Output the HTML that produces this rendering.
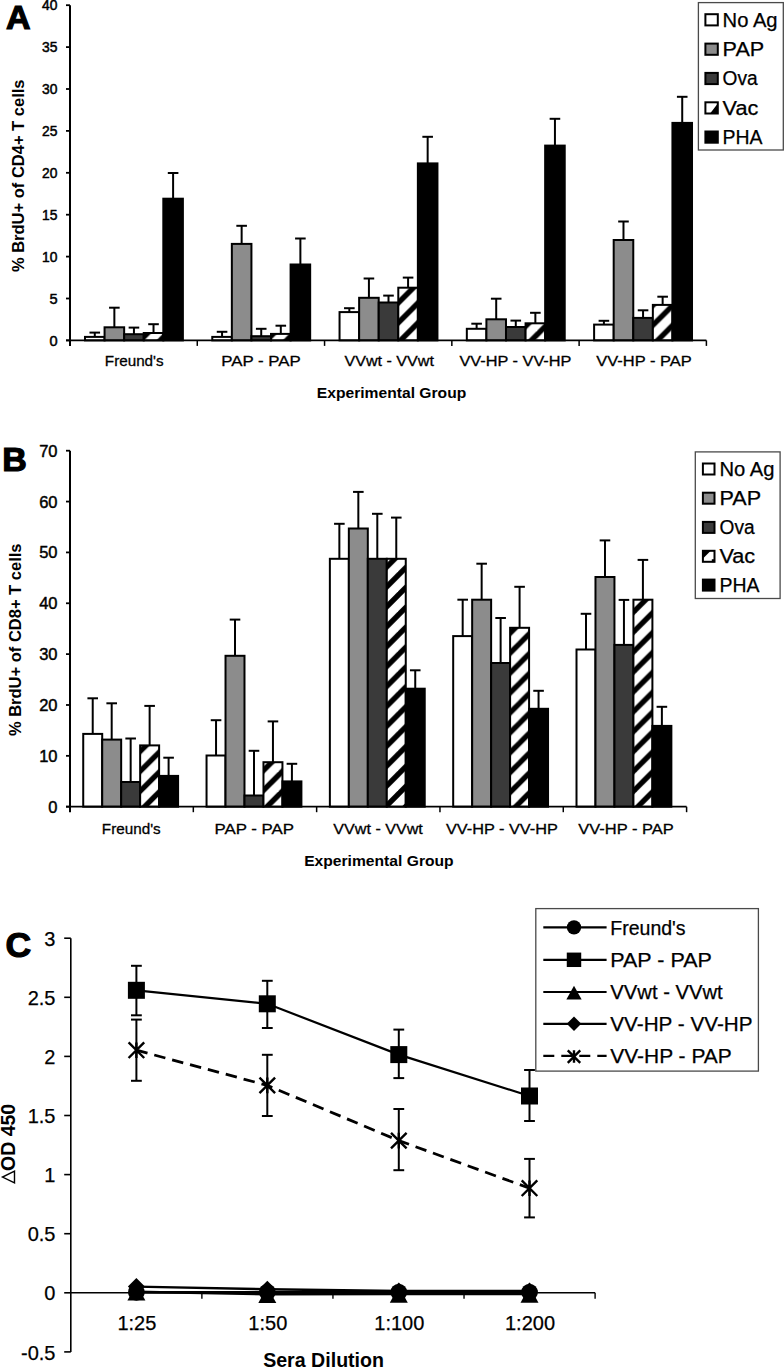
<!DOCTYPE html><html><head><meta charset="utf-8"><style>html,body{margin:0;padding:0;background:#fff;}svg{display:block;}text{font-family:"Liberation Sans", sans-serif;fill:#000;}</style></head><body>
<svg width="784" height="1368" viewBox="0 0 784 1368">
<defs>
<pattern id="patA0" patternUnits="userSpaceOnUse" width="19.9" height="19.9"><rect width="19.9" height="19.9" fill="#fff"/><line x1="3.15" y1="-19.9" x2="-19.9" y2="3.15" stroke="#000" stroke-width="5.37"/><line x1="23.05" y1="-19.9" x2="-19.9" y2="23.05" stroke="#000" stroke-width="5.37"/><line x1="42.95" y1="-19.9" x2="-19.9" y2="42.95" stroke="#000" stroke-width="5.37"/><line x1="62.85" y1="-19.9" x2="-19.9" y2="62.85" stroke="#000" stroke-width="5.37"/></pattern>
<pattern id="patB0" patternUnits="userSpaceOnUse" width="19.9" height="19.9"><rect width="19.9" height="19.9" fill="#fff"/><line x1="15.95" y1="-19.9" x2="-19.9" y2="15.95" stroke="#000" stroke-width="5.37"/><line x1="35.85" y1="-19.9" x2="-19.9" y2="35.85" stroke="#000" stroke-width="5.37"/><line x1="55.75" y1="-19.9" x2="-19.9" y2="55.75" stroke="#000" stroke-width="5.37"/><line x1="75.65" y1="-19.9" x2="-19.9" y2="75.65" stroke="#000" stroke-width="5.37"/></pattern>
<pattern id="patA1" patternUnits="userSpaceOnUse" width="19.9" height="19.9"><rect width="19.9" height="19.9" fill="#fff"/><line x1="10.05" y1="-19.9" x2="-19.9" y2="10.05" stroke="#000" stroke-width="5.37"/><line x1="29.95" y1="-19.9" x2="-19.9" y2="29.95" stroke="#000" stroke-width="5.37"/><line x1="49.85" y1="-19.9" x2="-19.9" y2="49.85" stroke="#000" stroke-width="5.37"/><line x1="69.75" y1="-19.9" x2="-19.9" y2="69.75" stroke="#000" stroke-width="5.37"/></pattern>
<pattern id="patB1" patternUnits="userSpaceOnUse" width="19.9" height="19.9"><rect width="19.9" height="19.9" fill="#fff"/><line x1="19" y1="-19.9" x2="-19.9" y2="19" stroke="#000" stroke-width="5.37"/><line x1="38.9" y1="-19.9" x2="-19.9" y2="38.9" stroke="#000" stroke-width="5.37"/><line x1="58.8" y1="-19.9" x2="-19.9" y2="58.8" stroke="#000" stroke-width="5.37"/><line x1="78.7" y1="-19.9" x2="-19.9" y2="78.7" stroke="#000" stroke-width="5.37"/></pattern>
<pattern id="patA2" patternUnits="userSpaceOnUse" width="19.9" height="19.9"><rect width="19.9" height="19.9" fill="#fff"/><line x1="4.65" y1="-19.9" x2="-19.9" y2="4.65" stroke="#000" stroke-width="5.37"/><line x1="24.55" y1="-19.9" x2="-19.9" y2="24.55" stroke="#000" stroke-width="5.37"/><line x1="44.45" y1="-19.9" x2="-19.9" y2="44.45" stroke="#000" stroke-width="5.37"/><line x1="64.35" y1="-19.9" x2="-19.9" y2="64.35" stroke="#000" stroke-width="5.37"/></pattern>
<pattern id="patB2" patternUnits="userSpaceOnUse" width="19.9" height="19.9"><rect width="19.9" height="19.9" fill="#fff"/><line x1="18.3" y1="-19.9" x2="-19.9" y2="18.3" stroke="#000" stroke-width="5.37"/><line x1="38.2" y1="-19.9" x2="-19.9" y2="38.2" stroke="#000" stroke-width="5.37"/><line x1="58.1" y1="-19.9" x2="-19.9" y2="58.1" stroke="#000" stroke-width="5.37"/><line x1="78" y1="-19.9" x2="-19.9" y2="78" stroke="#000" stroke-width="5.37"/></pattern>
<pattern id="patA3" patternUnits="userSpaceOnUse" width="19.9" height="19.9"><rect width="19.9" height="19.9" fill="#fff"/><line x1="16" y1="-19.9" x2="-19.9" y2="16" stroke="#000" stroke-width="5.37"/><line x1="35.9" y1="-19.9" x2="-19.9" y2="35.9" stroke="#000" stroke-width="5.37"/><line x1="55.8" y1="-19.9" x2="-19.9" y2="55.8" stroke="#000" stroke-width="5.37"/><line x1="75.7" y1="-19.9" x2="-19.9" y2="75.7" stroke="#000" stroke-width="5.37"/></pattern>
<pattern id="patB3" patternUnits="userSpaceOnUse" width="19.9" height="19.9"><rect width="19.9" height="19.9" fill="#fff"/><line x1="8.9" y1="-19.9" x2="-19.9" y2="8.9" stroke="#000" stroke-width="5.37"/><line x1="28.8" y1="-19.9" x2="-19.9" y2="28.8" stroke="#000" stroke-width="5.37"/><line x1="48.7" y1="-19.9" x2="-19.9" y2="48.7" stroke="#000" stroke-width="5.37"/><line x1="68.6" y1="-19.9" x2="-19.9" y2="68.6" stroke="#000" stroke-width="5.37"/></pattern>
<pattern id="patA4" patternUnits="userSpaceOnUse" width="19.9" height="19.9"><rect width="19.9" height="19.9" fill="#fff"/><line x1="3" y1="-19.9" x2="-19.9" y2="3" stroke="#000" stroke-width="5.37"/><line x1="22.9" y1="-19.9" x2="-19.9" y2="22.9" stroke="#000" stroke-width="5.37"/><line x1="42.8" y1="-19.9" x2="-19.9" y2="42.8" stroke="#000" stroke-width="5.37"/><line x1="62.7" y1="-19.9" x2="-19.9" y2="62.7" stroke="#000" stroke-width="5.37"/></pattern>
<pattern id="patB4" patternUnits="userSpaceOnUse" width="19.9" height="19.9"><rect width="19.9" height="19.9" fill="#fff"/><line x1="11.7" y1="-19.9" x2="-19.9" y2="11.7" stroke="#000" stroke-width="5.37"/><line x1="31.6" y1="-19.9" x2="-19.9" y2="31.6" stroke="#000" stroke-width="5.37"/><line x1="51.5" y1="-19.9" x2="-19.9" y2="51.5" stroke="#000" stroke-width="5.37"/><line x1="71.4" y1="-19.9" x2="-19.9" y2="71.4" stroke="#000" stroke-width="5.37"/></pattern>
</defs>
<rect width="784" height="1368" fill="#fff"/>
<rect x="84.99" y="336.9" width="19.58" height="3.5" fill="#ffffff" stroke="#000" stroke-width="2"/>
<line x1="94.78" y1="336.9" x2="94.78" y2="332.6" stroke="#000" stroke-width="2"/>
<line x1="89.48" y1="332.6" x2="100.08" y2="332.6" stroke="#000" stroke-width="2"/>
<rect x="104.57" y="327.3" width="19.58" height="13.1" fill="#8c8c8c" stroke="#000" stroke-width="2"/>
<line x1="114.36" y1="327.3" x2="114.36" y2="307.7" stroke="#000" stroke-width="2"/>
<line x1="109.06" y1="307.7" x2="119.66" y2="307.7" stroke="#000" stroke-width="2"/>
<rect x="124.15" y="334.2" width="19.58" height="6.2" fill="#3a3a3a" stroke="#000" stroke-width="2"/>
<line x1="133.94" y1="334.2" x2="133.94" y2="327.6" stroke="#000" stroke-width="2"/>
<line x1="128.64" y1="327.6" x2="139.24" y2="327.6" stroke="#000" stroke-width="2"/>
<rect x="143.73" y="333" width="19.58" height="7.4" fill="url(#patA0)" stroke="#000" stroke-width="2"/>
<line x1="153.52" y1="333" x2="153.52" y2="324.2" stroke="#000" stroke-width="2"/>
<line x1="148.22" y1="324.2" x2="158.82" y2="324.2" stroke="#000" stroke-width="2"/>
<rect x="163.31" y="198.7" width="19.58" height="141.7" fill="#000000" stroke="#000" stroke-width="2"/>
<line x1="173.1" y1="198.7" x2="173.1" y2="173" stroke="#000" stroke-width="2"/>
<line x1="167.8" y1="173" x2="178.4" y2="173" stroke="#000" stroke-width="2"/>
<rect x="212.27" y="336.9" width="19.58" height="3.5" fill="#ffffff" stroke="#000" stroke-width="2"/>
<line x1="222.06" y1="336.9" x2="222.06" y2="331.8" stroke="#000" stroke-width="2"/>
<line x1="216.76" y1="331.8" x2="227.36" y2="331.8" stroke="#000" stroke-width="2"/>
<rect x="231.85" y="243.9" width="19.58" height="96.5" fill="#8c8c8c" stroke="#000" stroke-width="2"/>
<line x1="241.64" y1="243.9" x2="241.64" y2="225.8" stroke="#000" stroke-width="2"/>
<line x1="236.34" y1="225.8" x2="246.94" y2="225.8" stroke="#000" stroke-width="2"/>
<rect x="251.43" y="336.2" width="19.58" height="4.2" fill="#3a3a3a" stroke="#000" stroke-width="2"/>
<line x1="261.22" y1="336.2" x2="261.22" y2="328.8" stroke="#000" stroke-width="2"/>
<line x1="255.92" y1="328.8" x2="266.52" y2="328.8" stroke="#000" stroke-width="2"/>
<rect x="271.01" y="333.9" width="19.58" height="6.5" fill="url(#patA1)" stroke="#000" stroke-width="2"/>
<line x1="280.8" y1="333.9" x2="280.8" y2="325.7" stroke="#000" stroke-width="2"/>
<line x1="275.5" y1="325.7" x2="286.1" y2="325.7" stroke="#000" stroke-width="2"/>
<rect x="290.59" y="264.5" width="19.58" height="75.9" fill="#000000" stroke="#000" stroke-width="2"/>
<line x1="300.38" y1="264.5" x2="300.38" y2="238.5" stroke="#000" stroke-width="2"/>
<line x1="295.08" y1="238.5" x2="305.68" y2="238.5" stroke="#000" stroke-width="2"/>
<rect x="339.55" y="312.1" width="19.58" height="28.3" fill="#ffffff" stroke="#000" stroke-width="2"/>
<line x1="349.34" y1="312.1" x2="349.34" y2="308.2" stroke="#000" stroke-width="2"/>
<line x1="344.04" y1="308.2" x2="354.64" y2="308.2" stroke="#000" stroke-width="2"/>
<rect x="359.13" y="297.8" width="19.58" height="42.6" fill="#8c8c8c" stroke="#000" stroke-width="2"/>
<line x1="368.92" y1="297.8" x2="368.92" y2="278.5" stroke="#000" stroke-width="2"/>
<line x1="363.62" y1="278.5" x2="374.22" y2="278.5" stroke="#000" stroke-width="2"/>
<rect x="378.71" y="302.5" width="19.58" height="37.9" fill="#3a3a3a" stroke="#000" stroke-width="2"/>
<line x1="388.5" y1="302.5" x2="388.5" y2="295.6" stroke="#000" stroke-width="2"/>
<line x1="383.2" y1="295.6" x2="393.8" y2="295.6" stroke="#000" stroke-width="2"/>
<rect x="398.29" y="287.7" width="19.58" height="52.7" fill="url(#patA2)" stroke="#000" stroke-width="2"/>
<line x1="408.08" y1="287.7" x2="408.08" y2="277.6" stroke="#000" stroke-width="2"/>
<line x1="402.78" y1="277.6" x2="413.38" y2="277.6" stroke="#000" stroke-width="2"/>
<rect x="417.87" y="163.4" width="19.58" height="177" fill="#000000" stroke="#000" stroke-width="2"/>
<line x1="427.66" y1="163.4" x2="427.66" y2="136.8" stroke="#000" stroke-width="2"/>
<line x1="422.36" y1="136.8" x2="432.96" y2="136.8" stroke="#000" stroke-width="2"/>
<rect x="466.83" y="328.8" width="19.58" height="11.6" fill="#ffffff" stroke="#000" stroke-width="2"/>
<line x1="476.62" y1="328.8" x2="476.62" y2="323.7" stroke="#000" stroke-width="2"/>
<line x1="471.32" y1="323.7" x2="481.92" y2="323.7" stroke="#000" stroke-width="2"/>
<rect x="486.41" y="319.3" width="19.58" height="21.1" fill="#8c8c8c" stroke="#000" stroke-width="2"/>
<line x1="496.2" y1="319.3" x2="496.2" y2="298.7" stroke="#000" stroke-width="2"/>
<line x1="490.9" y1="298.7" x2="501.5" y2="298.7" stroke="#000" stroke-width="2"/>
<rect x="505.99" y="327" width="19.58" height="13.4" fill="#3a3a3a" stroke="#000" stroke-width="2"/>
<line x1="515.78" y1="327" x2="515.78" y2="320.6" stroke="#000" stroke-width="2"/>
<line x1="510.48" y1="320.6" x2="521.08" y2="320.6" stroke="#000" stroke-width="2"/>
<rect x="525.57" y="323.3" width="19.58" height="17.1" fill="url(#patA3)" stroke="#000" stroke-width="2"/>
<line x1="535.36" y1="323.3" x2="535.36" y2="312.8" stroke="#000" stroke-width="2"/>
<line x1="530.06" y1="312.8" x2="540.66" y2="312.8" stroke="#000" stroke-width="2"/>
<rect x="545.15" y="145.6" width="19.58" height="194.8" fill="#000000" stroke="#000" stroke-width="2"/>
<line x1="554.94" y1="145.6" x2="554.94" y2="118.8" stroke="#000" stroke-width="2"/>
<line x1="549.64" y1="118.8" x2="560.24" y2="118.8" stroke="#000" stroke-width="2"/>
<rect x="594.11" y="324.6" width="19.58" height="15.8" fill="#ffffff" stroke="#000" stroke-width="2"/>
<line x1="603.9" y1="324.6" x2="603.9" y2="320.8" stroke="#000" stroke-width="2"/>
<line x1="598.6" y1="320.8" x2="609.2" y2="320.8" stroke="#000" stroke-width="2"/>
<rect x="613.69" y="240" width="19.58" height="100.4" fill="#8c8c8c" stroke="#000" stroke-width="2"/>
<line x1="623.48" y1="240" x2="623.48" y2="221.5" stroke="#000" stroke-width="2"/>
<line x1="618.18" y1="221.5" x2="628.78" y2="221.5" stroke="#000" stroke-width="2"/>
<rect x="633.27" y="317.9" width="19.58" height="22.5" fill="#3a3a3a" stroke="#000" stroke-width="2"/>
<line x1="643.06" y1="317.9" x2="643.06" y2="310.3" stroke="#000" stroke-width="2"/>
<line x1="637.76" y1="310.3" x2="648.36" y2="310.3" stroke="#000" stroke-width="2"/>
<rect x="652.85" y="304.9" width="19.58" height="35.5" fill="url(#patA4)" stroke="#000" stroke-width="2"/>
<line x1="662.64" y1="304.9" x2="662.64" y2="296.7" stroke="#000" stroke-width="2"/>
<line x1="657.34" y1="296.7" x2="667.94" y2="296.7" stroke="#000" stroke-width="2"/>
<rect x="672.43" y="122.9" width="19.58" height="217.5" fill="#000000" stroke="#000" stroke-width="2"/>
<line x1="682.22" y1="122.9" x2="682.22" y2="96.8" stroke="#000" stroke-width="2"/>
<line x1="676.92" y1="96.8" x2="687.52" y2="96.8" stroke="#000" stroke-width="2"/>
<line x1="70" y1="5.2" x2="70" y2="345.9" stroke="#000" stroke-width="2"/>
<line x1="66" y1="340.4" x2="706.4" y2="340.4" stroke="#000" stroke-width="1.8"/>
<line x1="66" y1="340.4" x2="70" y2="340.4" stroke="#000" stroke-width="1.8"/>
<line x1="66" y1="298.5" x2="70" y2="298.5" stroke="#000" stroke-width="1.8"/>
<line x1="66" y1="256.6" x2="70" y2="256.6" stroke="#000" stroke-width="1.8"/>
<line x1="66" y1="214.7" x2="70" y2="214.7" stroke="#000" stroke-width="1.8"/>
<line x1="66" y1="172.8" x2="70" y2="172.8" stroke="#000" stroke-width="1.8"/>
<line x1="66" y1="130.9" x2="70" y2="130.9" stroke="#000" stroke-width="1.8"/>
<line x1="66" y1="89" x2="70" y2="89" stroke="#000" stroke-width="1.8"/>
<line x1="66" y1="47.1" x2="70" y2="47.1" stroke="#000" stroke-width="1.8"/>
<line x1="66" y1="5.2" x2="70" y2="5.2" stroke="#000" stroke-width="1.8"/>
<line x1="197.28" y1="340.4" x2="197.28" y2="345.9" stroke="#000" stroke-width="1.5"/>
<line x1="324.56" y1="340.4" x2="324.56" y2="345.9" stroke="#000" stroke-width="1.5"/>
<line x1="451.84" y1="340.4" x2="451.84" y2="345.9" stroke="#000" stroke-width="1.5"/>
<line x1="579.12" y1="340.4" x2="579.12" y2="345.9" stroke="#000" stroke-width="1.5"/>
<line x1="706.4" y1="340.4" x2="706.4" y2="345.9" stroke="#000" stroke-width="1.5"/>
<text x="57.5" y="345.5" text-anchor="end" font-size="14.6" stroke="#000" stroke-width="0.5">0</text>
<text x="57.5" y="303.6" text-anchor="end" font-size="14.6" stroke="#000" stroke-width="0.5">5</text>
<text x="57.5" y="261.7" text-anchor="end" font-size="14.6" stroke="#000" stroke-width="0.5" textLength="15.4" lengthAdjust="spacingAndGlyphs">10</text>
<text x="57.5" y="219.8" text-anchor="end" font-size="14.6" stroke="#000" stroke-width="0.5" textLength="15.4" lengthAdjust="spacingAndGlyphs">15</text>
<text x="57.5" y="177.9" text-anchor="end" font-size="14.6" stroke="#000" stroke-width="0.5" textLength="15.4" lengthAdjust="spacingAndGlyphs">20</text>
<text x="57.5" y="136" text-anchor="end" font-size="14.6" stroke="#000" stroke-width="0.5" textLength="15.4" lengthAdjust="spacingAndGlyphs">25</text>
<text x="57.5" y="94.1" text-anchor="end" font-size="14.6" stroke="#000" stroke-width="0.5" textLength="15.4" lengthAdjust="spacingAndGlyphs">30</text>
<text x="57.5" y="52.2" text-anchor="end" font-size="14.6" stroke="#000" stroke-width="0.5" textLength="15.4" lengthAdjust="spacingAndGlyphs">35</text>
<text x="57.5" y="10.3" text-anchor="end" font-size="14.6" stroke="#000" stroke-width="0.5" textLength="15.4" lengthAdjust="spacingAndGlyphs">40</text>
<text x="134.24" y="366" text-anchor="middle" font-size="15.5" textLength="58.8" lengthAdjust="spacingAndGlyphs" stroke="#000" stroke-width="0.3">Freund's</text>
<text x="261.02" y="366" text-anchor="middle" font-size="15.5" textLength="79.5" lengthAdjust="spacingAndGlyphs" stroke="#000" stroke-width="0.3">PAP - PAP</text>
<text x="389.2" y="366" text-anchor="middle" font-size="15.5" textLength="89.5" lengthAdjust="spacingAndGlyphs" stroke="#000" stroke-width="0.3">VVwt - VVwt</text>
<text x="515.48" y="366" text-anchor="middle" font-size="15.5" textLength="111.9" lengthAdjust="spacingAndGlyphs" stroke="#000" stroke-width="0.3">VV-HP - VV-HP</text>
<text x="643.96" y="366" text-anchor="middle" font-size="15.5" textLength="95.5" lengthAdjust="spacingAndGlyphs" stroke="#000" stroke-width="0.3">VV-HP - PAP</text>
<text x="391.5" y="398" text-anchor="middle" font-size="15.5" font-weight="bold" textLength="149.5" lengthAdjust="spacingAndGlyphs">Experimental Group</text>
<text transform="translate(24.2 175.8) rotate(-90)" x="0" y="0" text-anchor="middle" font-size="16.5" font-weight="bold">% BrdU+ of CD4+ T cells</text>
<text x="6" y="29.3" font-size="34" font-weight="bold" stroke="#000" stroke-width="1.2">A</text>
<rect x="698.4" y="2.6" width="84.9" height="147.4" fill="#fff" stroke="#4a4a4a" stroke-width="1.3"/>
<rect x="705.4" y="14.2" width="12.4" height="11.2" fill="#ffffff" stroke="#000" stroke-width="2"/>
<text x="722.6" y="26.7" font-size="20" textLength="55" lengthAdjust="spacingAndGlyphs" stroke="#000" stroke-width="0.25">No Ag</text>
<rect x="705.4" y="43.6" width="12.4" height="11.2" fill="#8c8c8c" stroke="#000" stroke-width="2"/>
<text x="722.6" y="56.1" font-size="20" textLength="41.6" lengthAdjust="spacingAndGlyphs" stroke="#000" stroke-width="0.25">PAP</text>
<rect x="705.4" y="72.9" width="12.4" height="11.2" fill="#3a3a3a" stroke="#000" stroke-width="2"/>
<text x="722.6" y="85.4" font-size="20" textLength="35.1" lengthAdjust="spacingAndGlyphs" stroke="#000" stroke-width="0.25">Ova</text>
<path d="M 717 104.6 L 717 113.2 L 710.3 113.2 Z" fill="#000"/>
<rect x="705.4" y="102.3" width="12.4" height="11.2" fill="none" stroke="#000" stroke-width="2"/>
<text x="722.6" y="114.8" font-size="20" textLength="35.7" lengthAdjust="spacingAndGlyphs" stroke="#000" stroke-width="0.25">Vac</text>
<rect x="705.4" y="131.5" width="12.4" height="11.2" fill="#000000" stroke="#000" stroke-width="2"/>
<text x="722.6" y="144" font-size="20" textLength="40" lengthAdjust="spacingAndGlyphs" stroke="#000" stroke-width="0.25">PHA</text>
<rect x="83.23" y="733.9" width="18.97" height="72.8" fill="#ffffff" stroke="#000" stroke-width="2"/>
<line x1="92.72" y1="733.9" x2="92.72" y2="698.3" stroke="#000" stroke-width="2"/>
<line x1="87.42" y1="698.3" x2="98.02" y2="698.3" stroke="#000" stroke-width="2"/>
<rect x="102.2" y="739.6" width="18.97" height="67.1" fill="#8c8c8c" stroke="#000" stroke-width="2"/>
<line x1="111.69" y1="739.6" x2="111.69" y2="703.3" stroke="#000" stroke-width="2"/>
<line x1="106.39" y1="703.3" x2="116.99" y2="703.3" stroke="#000" stroke-width="2"/>
<rect x="121.17" y="782" width="18.97" height="24.7" fill="#3a3a3a" stroke="#000" stroke-width="2"/>
<line x1="130.66" y1="782" x2="130.66" y2="738.5" stroke="#000" stroke-width="2"/>
<line x1="125.36" y1="738.5" x2="135.96" y2="738.5" stroke="#000" stroke-width="2"/>
<rect x="140.15" y="745.4" width="18.97" height="61.3" fill="url(#patB0)" stroke="#000" stroke-width="2"/>
<line x1="149.63" y1="745.4" x2="149.63" y2="705.9" stroke="#000" stroke-width="2"/>
<line x1="144.33" y1="705.9" x2="154.93" y2="705.9" stroke="#000" stroke-width="2"/>
<rect x="159.12" y="775.9" width="18.97" height="30.8" fill="#000000" stroke="#000" stroke-width="2"/>
<line x1="168.6" y1="775.9" x2="168.6" y2="757.7" stroke="#000" stroke-width="2"/>
<line x1="163.3" y1="757.7" x2="173.9" y2="757.7" stroke="#000" stroke-width="2"/>
<rect x="206.55" y="755.5" width="18.97" height="51.2" fill="#ffffff" stroke="#000" stroke-width="2"/>
<line x1="216.04" y1="755.5" x2="216.04" y2="720.2" stroke="#000" stroke-width="2"/>
<line x1="210.74" y1="720.2" x2="221.34" y2="720.2" stroke="#000" stroke-width="2"/>
<rect x="225.52" y="655.8" width="18.97" height="150.9" fill="#8c8c8c" stroke="#000" stroke-width="2"/>
<line x1="235.01" y1="655.8" x2="235.01" y2="619.6" stroke="#000" stroke-width="2"/>
<line x1="229.71" y1="619.6" x2="240.31" y2="619.6" stroke="#000" stroke-width="2"/>
<rect x="244.49" y="795.5" width="18.97" height="11.2" fill="#3a3a3a" stroke="#000" stroke-width="2"/>
<line x1="253.98" y1="795.5" x2="253.98" y2="750.8" stroke="#000" stroke-width="2"/>
<line x1="248.68" y1="750.8" x2="259.28" y2="750.8" stroke="#000" stroke-width="2"/>
<rect x="263.47" y="762.2" width="18.97" height="44.5" fill="url(#patB1)" stroke="#000" stroke-width="2"/>
<line x1="272.95" y1="762.2" x2="272.95" y2="721.4" stroke="#000" stroke-width="2"/>
<line x1="267.65" y1="721.4" x2="278.25" y2="721.4" stroke="#000" stroke-width="2"/>
<rect x="282.44" y="781.4" width="18.97" height="25.3" fill="#000000" stroke="#000" stroke-width="2"/>
<line x1="291.92" y1="781.4" x2="291.92" y2="763.8" stroke="#000" stroke-width="2"/>
<line x1="286.62" y1="763.8" x2="297.22" y2="763.8" stroke="#000" stroke-width="2"/>
<rect x="329.87" y="558.8" width="18.97" height="247.9" fill="#ffffff" stroke="#000" stroke-width="2"/>
<line x1="339.36" y1="558.8" x2="339.36" y2="523.8" stroke="#000" stroke-width="2"/>
<line x1="334.06" y1="523.8" x2="344.66" y2="523.8" stroke="#000" stroke-width="2"/>
<rect x="348.84" y="528.5" width="18.97" height="278.2" fill="#8c8c8c" stroke="#000" stroke-width="2"/>
<line x1="358.33" y1="528.5" x2="358.33" y2="491.9" stroke="#000" stroke-width="2"/>
<line x1="353.03" y1="491.9" x2="363.63" y2="491.9" stroke="#000" stroke-width="2"/>
<rect x="367.81" y="558.8" width="18.97" height="247.9" fill="#3a3a3a" stroke="#000" stroke-width="2"/>
<line x1="377.3" y1="558.8" x2="377.3" y2="513.8" stroke="#000" stroke-width="2"/>
<line x1="372" y1="513.8" x2="382.6" y2="513.8" stroke="#000" stroke-width="2"/>
<rect x="386.79" y="558.8" width="18.97" height="247.9" fill="url(#patB2)" stroke="#000" stroke-width="2"/>
<line x1="396.27" y1="558.8" x2="396.27" y2="517.6" stroke="#000" stroke-width="2"/>
<line x1="390.97" y1="517.6" x2="401.57" y2="517.6" stroke="#000" stroke-width="2"/>
<rect x="405.76" y="688.7" width="18.97" height="118" fill="#000000" stroke="#000" stroke-width="2"/>
<line x1="415.24" y1="688.7" x2="415.24" y2="670.3" stroke="#000" stroke-width="2"/>
<line x1="409.94" y1="670.3" x2="420.54" y2="670.3" stroke="#000" stroke-width="2"/>
<rect x="453.19" y="636.1" width="18.97" height="170.6" fill="#ffffff" stroke="#000" stroke-width="2"/>
<line x1="462.68" y1="636.1" x2="462.68" y2="599.7" stroke="#000" stroke-width="2"/>
<line x1="457.38" y1="599.7" x2="467.98" y2="599.7" stroke="#000" stroke-width="2"/>
<rect x="472.16" y="599.7" width="18.97" height="207" fill="#8c8c8c" stroke="#000" stroke-width="2"/>
<line x1="481.65" y1="599.7" x2="481.65" y2="563.7" stroke="#000" stroke-width="2"/>
<line x1="476.35" y1="563.7" x2="486.95" y2="563.7" stroke="#000" stroke-width="2"/>
<rect x="491.13" y="663" width="18.97" height="143.7" fill="#3a3a3a" stroke="#000" stroke-width="2"/>
<line x1="500.62" y1="663" x2="500.62" y2="618" stroke="#000" stroke-width="2"/>
<line x1="495.32" y1="618" x2="505.92" y2="618" stroke="#000" stroke-width="2"/>
<rect x="510.11" y="627.8" width="18.97" height="178.9" fill="url(#patB3)" stroke="#000" stroke-width="2"/>
<line x1="519.59" y1="627.8" x2="519.59" y2="586.8" stroke="#000" stroke-width="2"/>
<line x1="514.29" y1="586.8" x2="524.89" y2="586.8" stroke="#000" stroke-width="2"/>
<rect x="529.08" y="708.8" width="18.97" height="97.9" fill="#000000" stroke="#000" stroke-width="2"/>
<line x1="538.56" y1="708.8" x2="538.56" y2="690.8" stroke="#000" stroke-width="2"/>
<line x1="533.26" y1="690.8" x2="543.86" y2="690.8" stroke="#000" stroke-width="2"/>
<rect x="576.51" y="649.5" width="18.97" height="157.2" fill="#ffffff" stroke="#000" stroke-width="2"/>
<line x1="586" y1="649.5" x2="586" y2="613.8" stroke="#000" stroke-width="2"/>
<line x1="580.7" y1="613.8" x2="591.3" y2="613.8" stroke="#000" stroke-width="2"/>
<rect x="595.48" y="577" width="18.97" height="229.7" fill="#8c8c8c" stroke="#000" stroke-width="2"/>
<line x1="604.97" y1="577" x2="604.97" y2="540.4" stroke="#000" stroke-width="2"/>
<line x1="599.67" y1="540.4" x2="610.27" y2="540.4" stroke="#000" stroke-width="2"/>
<rect x="614.45" y="644.9" width="18.97" height="161.8" fill="#3a3a3a" stroke="#000" stroke-width="2"/>
<line x1="623.94" y1="644.9" x2="623.94" y2="599.9" stroke="#000" stroke-width="2"/>
<line x1="618.64" y1="599.9" x2="629.24" y2="599.9" stroke="#000" stroke-width="2"/>
<rect x="633.43" y="599.7" width="18.97" height="207" fill="url(#patB4)" stroke="#000" stroke-width="2"/>
<line x1="642.91" y1="599.7" x2="642.91" y2="559.9" stroke="#000" stroke-width="2"/>
<line x1="637.61" y1="559.9" x2="648.21" y2="559.9" stroke="#000" stroke-width="2"/>
<rect x="652.4" y="725.9" width="18.97" height="80.8" fill="#000000" stroke="#000" stroke-width="2"/>
<line x1="661.88" y1="725.9" x2="661.88" y2="706.8" stroke="#000" stroke-width="2"/>
<line x1="656.58" y1="706.8" x2="667.18" y2="706.8" stroke="#000" stroke-width="2"/>
<line x1="70" y1="450.7" x2="70" y2="812.2" stroke="#000" stroke-width="2"/>
<line x1="66" y1="806.7" x2="686.6" y2="806.7" stroke="#000" stroke-width="1.8"/>
<line x1="66" y1="806.7" x2="70" y2="806.7" stroke="#000" stroke-width="1.8"/>
<line x1="66" y1="755.84" x2="70" y2="755.84" stroke="#000" stroke-width="1.8"/>
<line x1="66" y1="704.99" x2="70" y2="704.99" stroke="#000" stroke-width="1.8"/>
<line x1="66" y1="654.13" x2="70" y2="654.13" stroke="#000" stroke-width="1.8"/>
<line x1="66" y1="603.27" x2="70" y2="603.27" stroke="#000" stroke-width="1.8"/>
<line x1="66" y1="552.42" x2="70" y2="552.42" stroke="#000" stroke-width="1.8"/>
<line x1="66" y1="501.56" x2="70" y2="501.56" stroke="#000" stroke-width="1.8"/>
<line x1="66" y1="450.7" x2="70" y2="450.7" stroke="#000" stroke-width="1.8"/>
<line x1="193.32" y1="806.7" x2="193.32" y2="812.2" stroke="#000" stroke-width="1.5"/>
<line x1="316.64" y1="806.7" x2="316.64" y2="812.2" stroke="#000" stroke-width="1.5"/>
<line x1="439.96" y1="806.7" x2="439.96" y2="812.2" stroke="#000" stroke-width="1.5"/>
<line x1="563.28" y1="806.7" x2="563.28" y2="812.2" stroke="#000" stroke-width="1.5"/>
<line x1="686.6" y1="806.7" x2="686.6" y2="812.2" stroke="#000" stroke-width="1.5"/>
<text x="57.5" y="812.7" text-anchor="end" font-size="16.5" stroke="#000" stroke-width="0.45">0</text>
<text x="57.5" y="761.84" text-anchor="end" font-size="16.5" stroke="#000" stroke-width="0.45">10</text>
<text x="57.5" y="710.99" text-anchor="end" font-size="16.5" stroke="#000" stroke-width="0.45">20</text>
<text x="57.5" y="660.13" text-anchor="end" font-size="16.5" stroke="#000" stroke-width="0.45">30</text>
<text x="57.5" y="609.27" text-anchor="end" font-size="16.5" stroke="#000" stroke-width="0.45">40</text>
<text x="57.5" y="558.42" text-anchor="end" font-size="16.5" stroke="#000" stroke-width="0.45">50</text>
<text x="57.5" y="507.56" text-anchor="end" font-size="16.5" stroke="#000" stroke-width="0.45">60</text>
<text x="57.5" y="456.7" text-anchor="end" font-size="16.5" stroke="#000" stroke-width="0.45">70</text>
<text x="131.26" y="834" text-anchor="middle" font-size="15.5" textLength="58.8" lengthAdjust="spacingAndGlyphs" stroke="#000" stroke-width="0.3">Freund's</text>
<text x="254.28" y="834" text-anchor="middle" font-size="15.5" textLength="79.5" lengthAdjust="spacingAndGlyphs" stroke="#000" stroke-width="0.3">PAP - PAP</text>
<text x="378.1" y="834" text-anchor="middle" font-size="15.5" textLength="89.5" lengthAdjust="spacingAndGlyphs" stroke="#000" stroke-width="0.3">VVwt - VVwt</text>
<text x="501.92" y="834" text-anchor="middle" font-size="15.5" textLength="111.9" lengthAdjust="spacingAndGlyphs" stroke="#000" stroke-width="0.3">VV-HP - VV-HP</text>
<text x="625.99" y="834" text-anchor="middle" font-size="15.5" textLength="95.5" lengthAdjust="spacingAndGlyphs" stroke="#000" stroke-width="0.3">VV-HP - PAP</text>
<text x="378.9" y="866.2" text-anchor="middle" font-size="15.5" font-weight="bold" textLength="149.5" lengthAdjust="spacingAndGlyphs">Experimental Group</text>
<text transform="translate(20.6 639.8) rotate(-90)" x="0" y="0" text-anchor="middle" font-size="16.5" font-weight="bold">% BrdU+ of CD8+ T cells</text>
<text x="2.3" y="471.3" font-size="34" font-weight="bold" stroke="#000" stroke-width="1.2">B</text>
<rect x="695.3" y="451.9" width="84.8" height="146.6" fill="#fff" stroke="#4a4a4a" stroke-width="1.3"/>
<rect x="702.9" y="463.5" width="11.6" height="11" fill="#ffffff" stroke="#000" stroke-width="2"/>
<text x="719.5" y="475.8" font-size="20" textLength="55" lengthAdjust="spacingAndGlyphs" stroke="#000" stroke-width="0.25">No Ag</text>
<rect x="702.9" y="492.7" width="11.6" height="11" fill="#8c8c8c" stroke="#000" stroke-width="2"/>
<text x="719.5" y="505" font-size="20" textLength="41.6" lengthAdjust="spacingAndGlyphs" stroke="#000" stroke-width="0.25">PAP</text>
<rect x="702.9" y="521.9" width="11.6" height="11" fill="#3a3a3a" stroke="#000" stroke-width="2"/>
<text x="719.5" y="534.2" font-size="20" textLength="35.1" lengthAdjust="spacingAndGlyphs" stroke="#000" stroke-width="0.25">Ova</text>
<path d="M 703 550.5 L 711 550.5 L 703 558.5 Z M 711.8 559.3 L 714.5 559.3 L 714.5 562.2 L 711.8 562.2 Z" fill="#000"/>
<rect x="702.9" y="550.8" width="11.6" height="11" fill="none" stroke="#000" stroke-width="2"/>
<text x="719.5" y="563.1" font-size="20" textLength="35.7" lengthAdjust="spacingAndGlyphs" stroke="#000" stroke-width="0.25">Vac</text>
<rect x="702.9" y="579.6" width="11.6" height="11" fill="#000000" stroke="#000" stroke-width="2"/>
<text x="719.5" y="591.9" font-size="20" textLength="40" lengthAdjust="spacingAndGlyphs" stroke="#000" stroke-width="0.25">PHA</text>
<line x1="70.8" y1="938.2" x2="70.8" y2="1351.9" stroke="#000" stroke-width="1.6"/>
<line x1="64.2" y1="938.2" x2="70.8" y2="938.2" stroke="#000" stroke-width="1.6"/>
<text x="55.5" y="945.8" text-anchor="end" font-size="21" textLength="11.13" lengthAdjust="spacingAndGlyphs" stroke="#000" stroke-width="0.25">3</text>
<line x1="64.2" y1="997.3" x2="70.8" y2="997.3" stroke="#000" stroke-width="1.6"/>
<text x="55.5" y="1004.9" text-anchor="end" font-size="21" textLength="27.81" lengthAdjust="spacingAndGlyphs" stroke="#000" stroke-width="0.25">2.5</text>
<line x1="64.2" y1="1056.4" x2="70.8" y2="1056.4" stroke="#000" stroke-width="1.6"/>
<text x="55.5" y="1064" text-anchor="end" font-size="21" textLength="11.13" lengthAdjust="spacingAndGlyphs" stroke="#000" stroke-width="0.25">2</text>
<line x1="64.2" y1="1115.5" x2="70.8" y2="1115.5" stroke="#000" stroke-width="1.6"/>
<text x="55.5" y="1123.1" text-anchor="end" font-size="21" textLength="27.81" lengthAdjust="spacingAndGlyphs" stroke="#000" stroke-width="0.25">1.5</text>
<line x1="64.2" y1="1174.6" x2="70.8" y2="1174.6" stroke="#000" stroke-width="1.6"/>
<text x="55.5" y="1182.2" text-anchor="end" font-size="21" textLength="11.13" lengthAdjust="spacingAndGlyphs" stroke="#000" stroke-width="0.25">1</text>
<line x1="64.2" y1="1233.7" x2="70.8" y2="1233.7" stroke="#000" stroke-width="1.6"/>
<text x="55.5" y="1241.3" text-anchor="end" font-size="21" textLength="27.81" lengthAdjust="spacingAndGlyphs" stroke="#000" stroke-width="0.25">0.5</text>
<line x1="64.2" y1="1292.8" x2="70.8" y2="1292.8" stroke="#000" stroke-width="1.6"/>
<text x="55.5" y="1300.4" text-anchor="end" font-size="21" textLength="11.13" lengthAdjust="spacingAndGlyphs" stroke="#000" stroke-width="0.25">0</text>
<line x1="64.2" y1="1351.9" x2="70.8" y2="1351.9" stroke="#000" stroke-width="1.6"/>
<text x="55.5" y="1359.5" text-anchor="end" font-size="21" textLength="34.47" lengthAdjust="spacingAndGlyphs" stroke="#000" stroke-width="0.25">-0.5</text>
<line x1="70.8" y1="1292.8" x2="595.1" y2="1292.8" stroke="#000" stroke-width="1.6"/>
<line x1="201.88" y1="1292.8" x2="201.88" y2="1298.8" stroke="#000" stroke-width="1.4"/>
<line x1="332.95" y1="1292.8" x2="332.95" y2="1298.8" stroke="#000" stroke-width="1.4"/>
<line x1="464.03" y1="1292.8" x2="464.03" y2="1298.8" stroke="#000" stroke-width="1.4"/>
<line x1="595.1" y1="1292.8" x2="595.1" y2="1298.8" stroke="#000" stroke-width="1.4"/>
<text x="136.9" y="1329.5" text-anchor="middle" font-size="20" stroke="#000" stroke-width="0.25">1:25</text>
<text x="267.8" y="1329.5" text-anchor="middle" font-size="20" stroke="#000" stroke-width="0.25">1:50</text>
<text x="399.3" y="1329.5" text-anchor="middle" font-size="20" stroke="#000" stroke-width="0.25">1:100</text>
<text x="530" y="1329.5" text-anchor="middle" font-size="20" stroke="#000" stroke-width="0.25">1:200</text>
<text x="323.6" y="1366.5" text-anchor="middle" font-size="19.6" font-weight="bold">Sera Dilution</text>
<g transform="translate(15 1143.4) rotate(-90)"><text x="6" y="0" text-anchor="middle" font-size="19.5" font-weight="bold">OD 450</text><path d="M -39.5 -0.5 L -27.8 -0.5 L -33.65 -12.5 Z" fill="none" stroke="#000" stroke-width="1.4"/></g>
<text x="5.5" y="957.2" font-size="35.5" font-weight="bold" stroke="#000" stroke-width="1.2">C</text>
<path d="M 136.4 1292.3 L 267.3 1292.3 L 398.8 1292.3 L 529.5 1292.3" fill="none" stroke="#000" stroke-width="2.4"/>
<path d="M 136.4 1291.8 L 267.3 1294.3 L 398.8 1294 L 529.5 1294" fill="none" stroke="#000" stroke-width="2.4"/>
<path d="M 136.4 1286.6 L 267.3 1289.3 L 398.8 1291 L 529.5 1291" fill="none" stroke="#000" stroke-width="2.4"/>
<circle cx="136.4" cy="1292.3" r="8.4" fill="#000"/>
<circle cx="267.3" cy="1292.3" r="8.4" fill="#000"/>
<circle cx="398.8" cy="1292.3" r="8.4" fill="#000"/>
<circle cx="529.5" cy="1292.3" r="8.4" fill="#000"/>
<path d="M 136.4 1284.3 L 145.4 1300.5 L 127.4 1300.5 Z" fill="#000"/>
<path d="M 267.3 1286.8 L 276.3 1303 L 258.3 1303 Z" fill="#000"/>
<path d="M 398.8 1286.5 L 407.8 1302.7 L 389.8 1302.7 Z" fill="#000"/>
<path d="M 529.5 1286.5 L 538.5 1302.7 L 520.5 1302.7 Z" fill="#000"/>
<path d="M 136.4 1278.1 L 144.9 1286.6 L 136.4 1295.1 L 127.9 1286.6 Z" fill="#000"/>
<path d="M 267.3 1280.8 L 275.8 1289.3 L 267.3 1297.8 L 258.8 1289.3 Z" fill="#000"/>
<path d="M 398.8 1282.5 L 407.3 1291 L 398.8 1299.5 L 390.3 1291 Z" fill="#000"/>
<path d="M 529.5 1282.5 L 538 1291 L 529.5 1299.5 L 521 1291 Z" fill="#000"/>
<path d="M 136.4 990.3 L 267.3 1003.8 L 398.8 1054.6 L 529.5 1096" fill="none" stroke="#000" stroke-width="2.2"/>
<path d="M 136.4 1050.2 L 267.3 1085.4 L 398.8 1140.6 L 529.5 1188.2" fill="none" stroke="#000" stroke-width="2.8" stroke-dasharray="11.5 7"/>
<line x1="136.4" y1="965.8" x2="136.4" y2="1015.3" stroke="#000" stroke-width="2"/><line x1="131" y1="965.8" x2="141.8" y2="965.8" stroke="#000" stroke-width="2"/><line x1="131" y1="1015.3" x2="141.8" y2="1015.3" stroke="#000" stroke-width="2"/>
<line x1="136.4" y1="1019.6" x2="136.4" y2="1080.8" stroke="#000" stroke-width="2"/><line x1="131" y1="1019.6" x2="141.8" y2="1019.6" stroke="#000" stroke-width="2"/><line x1="131" y1="1080.8" x2="141.8" y2="1080.8" stroke="#000" stroke-width="2"/>
<line x1="267.3" y1="980.8" x2="267.3" y2="1028" stroke="#000" stroke-width="2"/><line x1="261.9" y1="980.8" x2="272.7" y2="980.8" stroke="#000" stroke-width="2"/><line x1="261.9" y1="1028" x2="272.7" y2="1028" stroke="#000" stroke-width="2"/>
<line x1="267.3" y1="1054.8" x2="267.3" y2="1116" stroke="#000" stroke-width="2"/><line x1="261.9" y1="1054.8" x2="272.7" y2="1054.8" stroke="#000" stroke-width="2"/><line x1="261.9" y1="1116" x2="272.7" y2="1116" stroke="#000" stroke-width="2"/>
<line x1="398.8" y1="1029.6" x2="398.8" y2="1078.1" stroke="#000" stroke-width="2"/><line x1="393.4" y1="1029.6" x2="404.2" y2="1029.6" stroke="#000" stroke-width="2"/><line x1="393.4" y1="1078.1" x2="404.2" y2="1078.1" stroke="#000" stroke-width="2"/>
<line x1="398.8" y1="1109" x2="398.8" y2="1170.2" stroke="#000" stroke-width="2"/><line x1="393.4" y1="1109" x2="404.2" y2="1109" stroke="#000" stroke-width="2"/><line x1="393.4" y1="1170.2" x2="404.2" y2="1170.2" stroke="#000" stroke-width="2"/>
<line x1="529.5" y1="1070" x2="529.5" y2="1121" stroke="#000" stroke-width="2"/><line x1="524.1" y1="1070" x2="534.9" y2="1070" stroke="#000" stroke-width="2"/><line x1="524.1" y1="1121" x2="534.9" y2="1121" stroke="#000" stroke-width="2"/>
<line x1="529.5" y1="1158.9" x2="529.5" y2="1217.4" stroke="#000" stroke-width="2"/><line x1="524.1" y1="1158.9" x2="534.9" y2="1158.9" stroke="#000" stroke-width="2"/><line x1="524.1" y1="1217.4" x2="534.9" y2="1217.4" stroke="#000" stroke-width="2"/>
<rect x="127.9" y="981.8" width="17" height="17" fill="#000"/>
<rect x="258.8" y="995.3" width="17" height="17" fill="#000"/>
<rect x="390.3" y="1046.1" width="17" height="17" fill="#000"/>
<rect x="521" y="1087.5" width="17" height="17" fill="#000"/>
<path d="M 128.6 1042.4 L 144.2 1058 M 128.6 1058 L 144.2 1042.4 M 136.4 1042.4 L 136.4 1058" stroke="#000" stroke-width="2.4" fill="none"/>
<path d="M 259.5 1077.6 L 275.1 1093.2 M 259.5 1093.2 L 275.1 1077.6 M 267.3 1077.6 L 267.3 1093.2" stroke="#000" stroke-width="2.4" fill="none"/>
<path d="M 391 1132.8 L 406.6 1148.4 M 391 1148.4 L 406.6 1132.8 M 398.8 1132.8 L 398.8 1148.4" stroke="#000" stroke-width="2.4" fill="none"/>
<path d="M 521.7 1180.4 L 537.3 1196 M 521.7 1196 L 537.3 1180.4 M 529.5 1180.4 L 529.5 1196" stroke="#000" stroke-width="2.4" fill="none"/>
<rect x="535.8" y="908.6" width="222.6" height="162.5" fill="#fff" stroke="#4a4a4a" stroke-width="1.3"/>
<line x1="543.3" y1="927.4" x2="606.6" y2="927.4" stroke="#000" stroke-width="2.2"/>
<circle cx="574" cy="927.4" r="7.14" fill="#000"/>
<text x="610.3" y="934.6" font-size="20" textLength="75.3" lengthAdjust="spacingAndGlyphs" stroke="#000" stroke-width="0.25">Freund's</text>
<line x1="543.3" y1="959.8" x2="606.6" y2="959.8" stroke="#000" stroke-width="2.2"/>
<rect x="566.77" y="952.57" width="14.45" height="14.45" fill="#000"/>
<text x="610.3" y="967" font-size="20" textLength="101.5" lengthAdjust="spacingAndGlyphs" stroke="#000" stroke-width="0.25">PAP - PAP</text>
<line x1="543.3" y1="992" x2="606.6" y2="992" stroke="#000" stroke-width="2.2"/>
<path d="M 574 985.85 L 581.65 999.62 L 566.35 999.62 Z" fill="#000"/>
<text x="610.3" y="999.2" font-size="20" textLength="112.4" lengthAdjust="spacingAndGlyphs" stroke="#000" stroke-width="0.25">VVwt - VVwt</text>
<line x1="543.3" y1="1023.8" x2="606.6" y2="1023.8" stroke="#000" stroke-width="2.2"/>
<path d="M 574 1016.57 L 581.23 1023.8 L 574 1031.02 L 566.77 1023.8 Z" fill="#000"/>
<text x="610.3" y="1031" font-size="20" textLength="142.3" lengthAdjust="spacingAndGlyphs" stroke="#000" stroke-width="0.25">VV-HP - VV-HP</text>
<line x1="543.3" y1="1055.8" x2="606.6" y2="1055.8" stroke="#000" stroke-width="2.2" stroke-dasharray="11 7"/>
<path d="M 567.76 1050.36 L 580.24 1062.84 M 567.76 1062.84 L 580.24 1050.36 M 574 1050.36 L 574 1062.84" stroke="#000" stroke-width="2.4" fill="none"/>
<text x="610.3" y="1063" font-size="20" textLength="121.5" lengthAdjust="spacingAndGlyphs" stroke="#000" stroke-width="0.25">VV-HP - PAP</text>
</svg></body></html>
